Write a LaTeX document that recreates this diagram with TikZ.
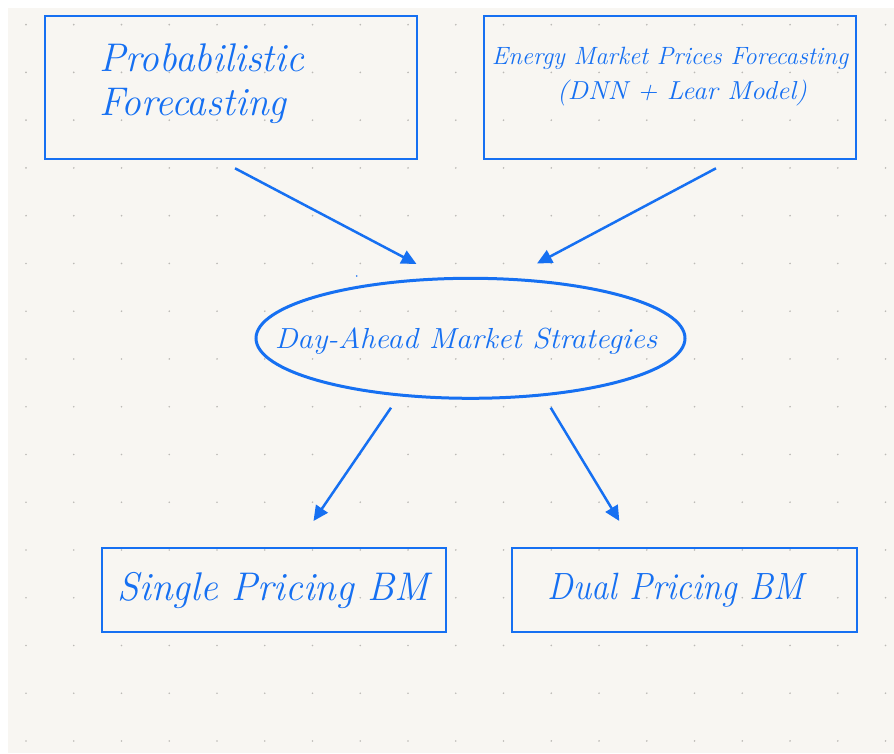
\documentclass[tikz,border=0pt]{standalone}
\usepackage{fontspec}
\usepackage{graphicx}
\usetikzlibrary{arrows.meta,shapes.geometric}
\definecolor{ink}{RGB}{22,112,242}
\definecolor{paper}{RGB}{248,246,242}
\definecolor{dotc}{RGB}{188,186,182}
\newcommand\hw[1]{\fontsize{#1}{#1}\selectfont\itshape}
\newcommand\wide[2]{\scalebox{#1}[1]{#2}}
\tikzset{
  box/.style={draw=ink, line width=2.4pt, rectangle, inner sep=0pt},
  oval/.style={draw=ink, line width=3pt, ellipse, inner sep=0pt},
  lbl/.style={text=ink, inner sep=0pt},
  conn/.style={draw=ink, line width=2.5pt, -{Triangle[length=15pt,width=14pt]}},
}
\begin{document}
\begin{tikzpicture}[x=1pt,y=-1pt]
\useasboundingbox (0,0) rectangle (894,754);
\fill[white] (0,0) rectangle (894,754);
\fill[paper] (8,8) rectangle (894,753);
\foreach \i in {0,...,18}{
  \foreach \j in {0,...,15}{
    \fill[dotc] ({26+47.75*\i},{24.7+47.75*\j}) circle (0.95);
  }
}
% boxes
\node[box, minimum width=372pt, minimum height=143pt] (pf) at (231,87.5) {};
\node[box, minimum width=372pt, minimum height=143pt] (em) at (670,87.5) {};
\node[oval, minimum width=429pt, minimum height=120pt] (da) at (470.5,338.3) {};
\node[box, minimum width=344pt, minimum height=84pt] (sp) at (274,590) {};
\node[box, minimum width=345pt, minimum height=84pt] (dp) at (684.5,590) {};
% labels
\node[lbl, anchor=base west, font=\hw{40}] (pftxta) at (99,72) {\wide{0.985}{Probabilistic}};
\node[lbl, anchor=base west, font=\hw{40}] (pftxtb) at (99,116) {\wide{0.985}{Forecasting}};
\node[lbl, anchor=base, font=\hw{25}] (emtxta) at (670,65) {\wide{0.99}{Energy Market Prices Forecasting}};
\node[lbl, anchor=base, font=\hw{26}] (emtxtb) at (682,100) {\wide{1.045}{(DNN + Lear Model)}};
\node[lbl, anchor=base, font=\hw{29}] (datxt) at (466,348) {\wide{1.06}{Day-Ahead Market Strategies}};
\node[lbl, anchor=base, font=\hw{40}] (sptxt) at (273.5,600) {\wide{0.98}{Single Pricing BM}};
\node[lbl, anchor=base, font=\hw{38}] (dptxt) at (675.5,599) {\wide{0.91}{Dual Pricing BM}};
% connector end points
\coordinate (a1s) at (235,168.3);
\coordinate (a1e) at (416.5,264);
\coordinate (a2s) at (716,168.3);
\coordinate (a2e) at (537,263.5);
\coordinate (a3s) at (391,407.7);
\coordinate (a3e) at (313.5,521);
\coordinate (a4s) at (550.7,407.7);
\coordinate (a4e) at (619.3,521);
\draw[conn] (a1s) -- (a1e);
\draw[conn] (a2s) -- (a2e);
\draw[conn] (a3s) -- (a3e);
\draw[conn] (a4s) -- (a4e);
\coordinate (speck) at (356.7,276);
\fill[ink] (speck) circle (0.9);
\end{tikzpicture}
\end{document}
